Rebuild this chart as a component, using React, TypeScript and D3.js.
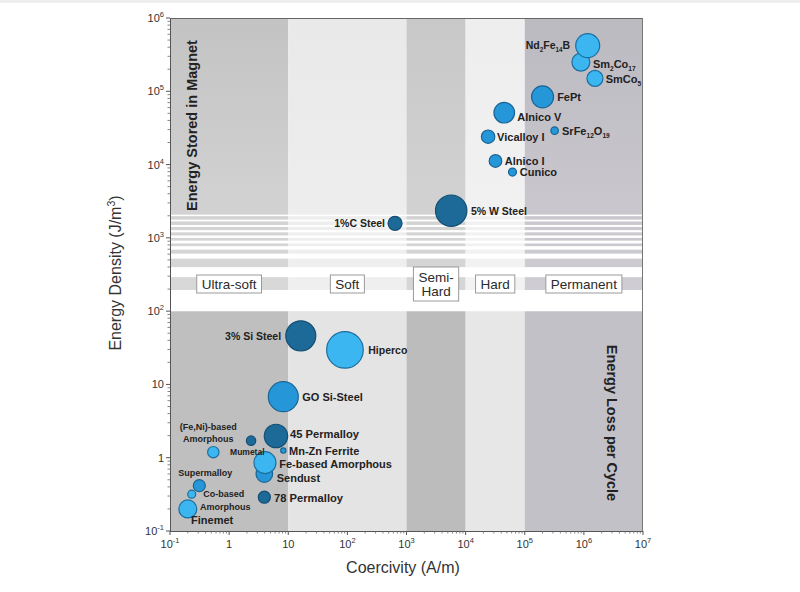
import React from 'react';
import * as d3 from 'd3';

// ---------------- DATA ----------------
const materials = [
  'Sm_{2}Co_{17}', 'Nd_{2}Fe_{14}B', 'SmCo_{5}', 'FePt', 'Alnico V', 'SrFe_{12}O_{19}',
  'Vicalloy I', 'Alnico I', 'Cunico', '1%C Steel', '5% W Steel', '3% Si Steel',
  'Hiperco', 'GO Si-Steel', '45 Permalloy', '(Fe,Ni)-based\nAmorphous', 'Mumetal',
  'Mn-Zn Ferrite', 'Sendust', 'Fe-based Amorphous', 'Supermalloy',
  'Co-based\nAmorphous', '78 Permalloy', 'Finemet',
];
// Coercivity (A/m)
const coercivity = [
  8.9e5, 1.16e6, 1.54e6, 2.0e5, 4.5e4, 3.2e5,
  2.4e4, 3.2e4, 6.2e4, 640, 5700, 16.3,
  91, 8.25, 6.2, 0.54, 2.35,
  8.25, 3.94, 4.04, 0.313,
  0.233, 3.94, 0.2,
];
// Energy density (J/m^3)
const energyDensity = [
  2.5e5, 4.2e5, 1.5e5, 8.4e4, 5.1e4, 2.9e4,
  2.4e4, 1.12e4, 7.9e3, 1580, 2350, 46,
  29.6, 6.8, 1.98, 1.19, 1.71,
  1.25, 0.6, 0.857, 0.416,
  0.318, 0.289, 0.2,
];
// relative bubble magnitude (area units)
const bubbleArea = [
  81, 144, 64, 121, 106, 14,
  45, 40, 16, 49, 246, 225,
  335, 225, 137, 32, 22,
  7, 69, 121, 36,
  16, 36, 81,
];
// material shade group: 0 light, 1 medium, 2 dark
const shadeGroup = [
  0, 0, 0, 1, 1, 1,
  1, 1, 1, 2, 2, 2,
  0, 1, 2, 0, 2,
  1, 1, 0, 1,
  0, 2, 0,
];

const regimeNames = ['Ultra-soft', 'Soft', 'Semi-\nHard', 'Hard', 'Permanent'];
const regimeCenters = [1, 100, 3162, 31623, 1e6];
const regimeBounds = [0.1, 10, 1e3, 1e4, 1e5, 1e7];

const xTickExponents = [-1, 0, 1, 2, 3, 4, 5, 6, 7];
const yTickExponents = [-1, 0, 1, 2, 3, 4, 5, 6];

// ---------------- LAYOUT / STYLE ----------------
const W = 800;
const H = 592;
const PL = 170, PR = 643, PT = 18, PB = 531;
const FONT = "'Liberation Sans', Arial, Helvetica, sans-serif";

const shadeFill = ['#3bb6f0', '#2597d9', '#1d6a98'];
const shadeStroke = ['#1c6e9e', '#1a6494', '#144e73'];

const topBandStart = ['#c3c3c3', '#e9e9e9', '#c8c8c8', '#eeeeee', '#bcbac1'];
const topBandEnd = ['#d8d8d8', '#efefef', '#d6d6d6', '#f2f2f2', '#cfcdd3'];
const bottomBand = ['#bfbfbf', '#e4e4e4', '#bcbcbc', '#e7e7e7', '#c3c1c8'];

// label placement relative to bubble center
type LL = { dx: number; dy: number; anchor?: string; fs?: number; lh?: number; ldx?: number[] };
const labelLayout: LL[] = [
  { dx: 12, dy: 5.5, fs: 11 },
  { dx: -17.5, dy: 3.5, anchor: 'end', fs: 10.5 },
  { dx: 10.7, dy: 4.7, fs: 11 },
  { dx: 14.6, dy: 4, fs: 11 },
  { dx: 13, dy: 8, fs: 11 },
  { dx: 7.4, dy: 4, fs: 11 },
  { dx: 9, dy: 4.5, fs: 11 },
  { dx: 9.3, dy: 4.5, fs: 11 },
  { dx: 7.3, dy: 4, fs: 11 },
  { dx: -10, dy: 4, anchor: 'end', fs: 10.5 },
  { dx: 19.7, dy: 4.8, fs: 10.5 },
  { dx: -19.7, dy: 4, anchor: 'end', fs: 10.5 },
  { dx: 23.3, dy: 4.5, fs: 10.5 },
  { dx: 19, dy: 4.5, fs: 11 },
  { dx: 14, dy: 2, fs: 11.2 },
  { dx: -5, dy: -21.8, anchor: 'middle', fs: 9, lh: 12 },
  { dx: -21, dy: 14.3, fs: 8.5 },
  { dx: 5.7, dy: 4.8, fs: 11 },
  { dx: 12.4, dy: 7.7, fs: 11 },
  { dx: 14.3, dy: 5.3, fs: 11 },
  { dx: -21, dy: -9.2, fs: 9 },
  { dx: 11.6, dy: 3.2, fs: 9, lh: 12.5, ldx: [0, -3.3] },
  { dx: 9.7, dy: 4.7, fs: 11.2 },
  { dx: 3.3, dy: 15, fs: 11 },
];

function Chem({ s, fs }: { s: string; fs: number }) {
  const parts = s.split(/(_\{[^}]*\})/).filter((p) => p.length);
  let sub = false;
  const out: React.ReactNode[] = [];
  parts.forEach((p, i) => {
    const m = p.match(/^_\{([^}]*)\}$/);
    if (m) {
      out.push(
        <tspan key={i} dy={fs * 0.3} fontSize={fs * 0.6}>
          {m[1]}
        </tspan>
      );
      sub = true;
    } else {
      out.push(
        <tspan key={i} dy={sub ? -fs * 0.3 : 0}>
          {p}
        </tspan>
      );
      sub = false;
    }
  });
  return <>{out}</>;
}

function Pow({ e }: { e: number }) {
  if (e === 0) return <>1</>;
  if (e === 1) return <>10</>;
  return (
    <>
      10
      <tspan dy={-5} fontSize={7.5}>
        {e < 0 ? '-' + Math.abs(e) : String(e)}
      </tspan>
    </>
  );
}

function measure(text: string, font: string): number {
  try {
    const c = document.createElement('canvas').getContext('2d');
    if (c) {
      c.font = font;
      return c.measureText(text).width;
    }
  } catch (e) {}
  return text.length * 7;
}

export default function App() {
  const x = d3.scaleLog().domain([0.1, 1e7]).range([PL, PR]);
  const y = d3.scaleLog().domain([0.1, 1e6]).range([PB, PT]);
  const r = d3.scaleSqrt().domain([0, 335]).range([0, 18.3]);

  const y100 = y(100);
  // white stripe gaps (pixel offsets above 10^2 line)
  const gaps: [number, number][] = [
    [96.5, 1.5], [91.5, 1.8], [86.2, 2], [81, 2.2], [75.7, 2.5],
    [70.5, 2.8], [65, 3.5], [57.5, 5], [44, 10], [21, 21],
  ];
  const topEnd = y100 - 21;

  const minorTicks = (lo: number, hi: number) => {
    const t: number[] = [];
    for (let e = lo; e < hi; e++) for (let k = 2; k <= 9; k++) t.push(k * Math.pow(10, e));
    return t;
  };
  const xMinor = minorTicks(-1, 7);
  const yMinor = minorTicks(-1, 6);

  const boxFont = 13.5;

  return (
    <svg
      width={W}
      height={H}
      style={{ position: 'absolute', left: 0, top: 0, background: '#fff' }}
      fontFamily={FONT}
    >
      <defs>
        {topBandStart.map((c, i) => (
          <linearGradient key={i} id={'tg' + i} x1="0" y1="0" x2="0" y2="1">
            <stop offset="0%" stopColor={c} />
            <stop offset="100%" stopColor={topBandEnd[i]} />
          </linearGradient>
        ))}
      </defs>
      <rect x={0} y={0} width={W} height={3} fill="#eeeeee" />

      {/* background bands */}
      {regimeBounds.slice(0, -1).map((b, i) => (
        <g key={'band' + i}>
          <rect
            x={x(b)}
            y={PT}
            width={x(regimeBounds[i + 1]) - x(b)}
            height={topEnd - PT}
            fill={`url(#tg${i})`}
          />
          <rect
            x={x(b)}
            y={y100}
            width={x(regimeBounds[i + 1]) - x(b)}
            height={PB - y100}
            fill={bottomBand[i]}
          />
        </g>
      ))}
      {gaps.map(([off, h], i) => (
        <rect key={'gap' + i} x={PL} y={y100 - off} width={PR - PL} height={h} fill="#ffffff" />
      ))}

      {/* frame */}
      <line x1={PL} y1={PT + 0.5} x2={PR} y2={PT + 0.5} stroke="#666" strokeWidth={1} />
      <line x1={PR - 0.5} y1={PT} x2={PR - 0.5} y2={PB} stroke="#777" strokeWidth={1} />
      <line x1={PL + 0.5} y1={PT} x2={PL + 0.5} y2={PB} stroke="#555" strokeWidth={1} />
      <line x1={PL} y1={PB + 0.5} x2={PR} y2={PB + 0.5} stroke="#555" strokeWidth={1} />

      {/* y ticks */}
      {yTickExponents.map((e) => (
        <g key={'yt' + e}>
          <line x1={PL - 4} x2={PL} y1={y(Math.pow(10, e))} y2={y(Math.pow(10, e))} stroke="#555" />
          <text x={PL - 6} y={y(Math.pow(10, e)) + 4} fontSize={11} textAnchor="end" fill="#333">
            <Pow e={e} />
          </text>
        </g>
      ))}
      {yMinor.map((v, i) => (
        <line key={'ym' + i} x1={PL - 2.5} x2={PL} y1={y(v)} y2={y(v)} stroke="#666" strokeWidth={0.8} />
      ))}
      {/* x ticks */}
      {xTickExponents.map((e) => (
        <g key={'xt' + e}>
          <line y1={PB} y2={PB + 4} x1={x(Math.pow(10, e))} x2={x(Math.pow(10, e))} stroke="#555" />
          <text x={x(Math.pow(10, e))} y={PB + 17} fontSize={11} textAnchor="middle" fill="#333">
            <Pow e={e} />
          </text>
        </g>
      ))}
      {xMinor.map((v, i) => (
        <line key={'xm' + i} y1={PB} y2={PB + 2.5} x1={x(v)} x2={x(v)} stroke="#666" strokeWidth={0.8} />
      ))}

      {/* regime boxes */}
      {regimeNames.map((name, i) => {
        const lines = name.split('\n');
        const font = `${boxFont}px 'Liberation Sans'`;
        const tw = Math.max(...lines.map((l) => measure(l, font)));
        const bw = tw + 10;
        const cx = x(regimeCenters[i]);
        const bh = lines.length === 1 ? 18 : 34;
        const cy = 284;
        return (
          <g key={'rg' + i}>
            <rect
              x={cx - bw / 2}
              y={cy - bh / 2}
              width={bw}
              height={bh}
              fill="#fff"
              stroke="#9a9a9a"
              strokeWidth={1}
            />
            {lines.map((l, j) => (
              <text
                key={j}
                x={cx}
                y={cy + 4.8 + (j - (lines.length - 1) / 2) * 14.5}
                fontSize={boxFont}
                textAnchor="middle"
                fill="#2a2a2a"
              >
                {l}
              </text>
            ))}
          </g>
        );
      })}

      {/* in-plot titles */}
      <text
        transform={`translate(196.5,125.5) rotate(-90)`}
        fontSize={14.5}
        fontWeight="bold"
        textAnchor="middle"
        fill="#222"
      >
        Energy Stored in Magnet
      </text>
      <text
        transform={`translate(607,423) rotate(90)`}
        fontSize={14.5}
        fontWeight="bold"
        textAnchor="middle"
        fill="#222"
      >
        Energy Loss per Cycle
      </text>

      {/* bubbles */}
      {materials.map((m, i) => (
        <circle
          key={'c' + i}
          cx={x(coercivity[i])}
          cy={y(energyDensity[i])}
          r={r(bubbleArea[i])}
          fill={shadeFill[shadeGroup[i]]}
          stroke={shadeStroke[shadeGroup[i]]}
          strokeWidth={1.2}
        />
      ))}

      {/* labels */}
      {materials.map((m, i) => {
        const L = labelLayout[i];
        const fs = L.fs || 11;
        const lines = m.split('\n');
        const cx = x(coercivity[i]);
        const cy = y(energyDensity[i]);
        return (
          <g key={'l' + i}>
            {lines.map((ln, j) => (
              <text
                key={j}
                x={cx + L.dx + (L.ldx ? L.ldx[j] : 0)}
                y={cy + L.dy + j * (L.lh || 12)}
                fontSize={fs}
                fontWeight="bold"
                textAnchor={L.anchor || 'start'}
                fill="#222"
              >
                <Chem s={ln} fs={fs} />
              </text>
            ))}
          </g>
        );
      })}

      {/* axis titles */}
      <text
        transform={`translate(121,273) rotate(-90)`}
        fontSize={16}
        textAnchor="middle"
        fill="#333"
      >
        Energy Density (J/m
        <tspan dy={-6} fontSize={10.5}>
          3
        </tspan>
        <tspan dy={6}>)</tspan>
      </text>
      <text x={403} y={573} fontSize={16} textAnchor="middle" fill="#333">
        Coercivity (A/m)
      </text>
    </svg>
  );
}
